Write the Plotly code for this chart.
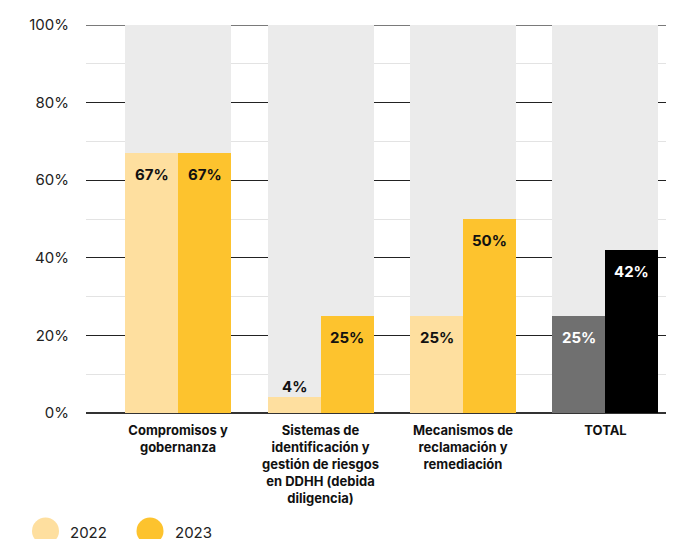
import plotly.graph_objects as go

categories = ["Compromisos y<br>gobernanza",
              "Sistemas de<br>identificación y<br>gestión de riesgos<br>en DDHH (debida<br>diligencia)",
              "Mecanismos de<br>reclamación y<br>remediación",
              "TOTAL"]
series = ["2022", "2023"]
values_2022 = [67, 4, 25, 25]
values_2023 = [67, 25, 50, 42]
background = [100, 100, 100, 100]

C22 = "#FEDF9F"
C23 = "#FDC32E"
colors_2022 = [C22, C22, C22, "#707070"]
colors_2023 = [C23, C23, C23, "#000000"]
text_2022 = ["#111111", "#111111", "#111111", "#FFFFFF"]
text_2023 = ["#111111", "#111111", "#111111", "#FFFFFF"]

FONT = "Inter"
xs = list(range(len(categories)))
bw = 0.372

fig = go.Figure()
fig.add_trace(go.Bar(x=xs, y=background, width=2 * bw, offset=-bw,
                     marker=dict(color="#EBEBEB", line=dict(width=0)),
                     showlegend=False, hoverinfo="skip"))
fig.add_trace(go.Bar(x=xs, y=values_2022, width=bw, offset=-bw, name=series[0],
                     marker=dict(color=colors_2022, line=dict(width=0)), showlegend=False))
fig.add_trace(go.Bar(x=xs, y=values_2023, width=bw, offset=0, name=series[1],
                     marker=dict(color=colors_2023, line=dict(width=0)), showlegend=False))

annotations = []
for vals, tcol, sign in [(values_2022, text_2022, -1), (values_2023, text_2023, 1)]:
    for i, v in enumerate(vals):
        inside = v >= 10
        annotations.append(dict(
            x=i + sign * bw / 2, y=v, xref="x", yref="y",
            text=f"<b>{v}%</b>", showarrow=False,
            yanchor="middle", yshift=-21 if inside else 11,
            font=dict(family=FONT, size=15, color=tcol[i] if inside else "#111111")))

# layout geometry (figure pixels)
L, T, B = 78, 17, 134
W, H = 674, 539
plot_w = W - L
plot_h = H - T - B
y_bottom = H - B

shapes = []
leg_x = [37.5, 142]
leg_y = 523
leg_cols = [C22, C23]
for lx, col, name in zip(leg_x, leg_cols, series):
    px = (lx - L) / plot_w
    py = (y_bottom - leg_y) / plot_h
    shapes.append(dict(type="circle", xref="paper", yref="paper",
                       xsizemode="pixel", ysizemode="pixel",
                       xanchor=px, yanchor=py,
                       x0=-13.5, x1=13.5, y0=-13.5, y1=13.5,
                       fillcolor=col, line=dict(width=0)))
    annotations.append(dict(x=(lx + 22.5 - L) / plot_w, y=py, xref="paper", yref="paper",
                            text=name, showarrow=False, xanchor="left", yanchor="middle",
                            yshift=-1,
                            font=dict(family=FONT, size=15, color="#222222")))

# top 100% line in gray
shapes.append(dict(type="line", xref="paper", yref="y", x0=0, x1=1, y0=100, y1=100,
                   line=dict(color="#7A7A7A", width=2), layer="below"))

fig.update_layout(
    width=W, height=H,
    margin=dict(l=L, r=0, t=T, b=B),
    paper_bgcolor="white", plot_bgcolor="white",
    barmode="overlay", bargap=0,
    showlegend=False,
    annotations=annotations, shapes=shapes,
    font=dict(family=FONT, color="#222222"),
)
fig.update_xaxes(
    range=[-0.646, 3.537], tickvals=xs, ticktext=categories,
    showgrid=False, zeroline=False, showline=False, ticks="",
    tickfont=dict(family=FONT, size=13, color="#111111", weight="bold"),
    ticklabelstandoff=8,
)
fig.update_yaxes(
    range=[0, 100], tickvals=[0, 20, 40, 60, 80, 100],
    ticktext=["0%", "20%", "40%", "60%", "80%", "100%"],
    showgrid=True, gridcolor="#222222", gridwidth=1,
    minor=dict(dtick=10, tick0=0, showgrid=True, gridcolor="#E3E3E3", gridwidth=1),
    zeroline=True, zerolinecolor="#333333", zerolinewidth=1.5,
    showline=False, ticks="",
    tickfont=dict(family=FONT, size=15, color="#222222"),
    ticklabelstandoff=16,
)

fig.write_html("out.html")
